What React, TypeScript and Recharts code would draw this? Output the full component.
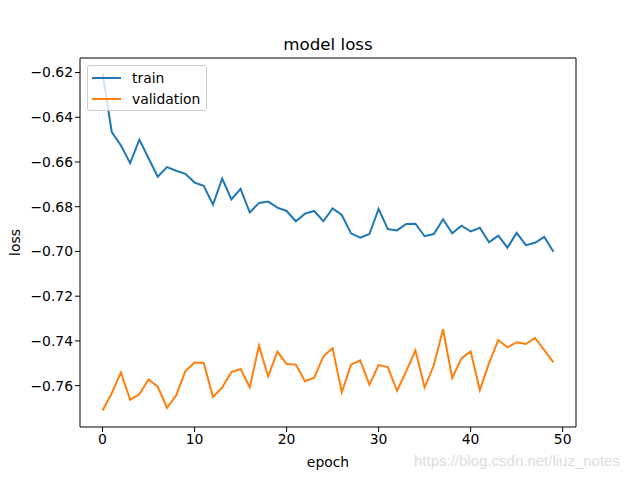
import { LineChart, Line, XAxis, YAxis, ReferenceLine } from "recharts";

const epochs = Array.from({ length: 50 }, (_, i) => i);

const trainLoss = [
  -0.6204, -0.6466, -0.6526, -0.6605, -0.65, -0.6583, -0.6666, -0.6623, -0.6639, -0.6653,
  -0.6692, -0.6707, -0.6791, -0.6674, -0.6767, -0.672, -0.6826, -0.6783, -0.6777, -0.6804,
  -0.6819, -0.6865, -0.6831, -0.6819, -0.6865, -0.6808, -0.6837, -0.6919, -0.6938, -0.6922,
  -0.681, -0.69, -0.6906, -0.6877, -0.6876, -0.6932, -0.6922, -0.6856, -0.6919, -0.6885,
  -0.691, -0.6894, -0.6959, -0.6929, -0.6983, -0.6917, -0.6972, -0.6961, -0.6935, -0.7001,
];

const valLoss = [
  -0.7711, -0.7634, -0.7541, -0.7663, -0.7639, -0.7572, -0.7605, -0.7699, -0.7644, -0.7535,
  -0.7497, -0.7499, -0.7651, -0.7608, -0.7539, -0.7526, -0.7607, -0.7421, -0.7559, -0.7448,
  -0.7503, -0.7506, -0.758, -0.7565, -0.7469, -0.7432, -0.763, -0.7506, -0.7487, -0.7596,
  -0.7508, -0.7517, -0.7623, -0.7536, -0.7442, -0.7608, -0.7509, -0.7348, -0.7566, -0.7478,
  -0.7447, -0.762, -0.7499, -0.7396, -0.7429, -0.7406, -0.7414, -0.7387, -0.7441, -0.7496,
];

const xTicks = [0, 10, 20, 30, 40, 50];
const yTicks = [-0.76, -0.74, -0.72, -0.7, -0.68, -0.66, -0.64, -0.62];
const xDomain: [number, number] = [-2.45, 51.45];
const yDomain: [number, number] = [-0.7785, -0.6135];

const data = epochs.map((e, i) => ({ epoch: e, train: trainLoss[i], validation: valLoss[i] }));

const font = "DejaVu Sans, sans-serif";
const tickStyle = { fontSize: 13.9, fill: "#000", fontFamily: font };

function LegendBox() {
  const rows = [
    { name: "train", color: "#1f77b4" },
    { name: "validation", color: "#ff7f0e" },
  ];
  return (
    <div
      style={{
        position: "absolute",
        left: 87,
        top: 65,
        width: 120,
        height: 46,
        border: "1px solid #cccccc",
        borderRadius: 3,
        background: "rgba(255,255,255,0.8)",
        fontFamily: font,
        fontSize: 13.9,
        color: "#000",
        boxSizing: "border-box",
        paddingTop: 1,
      }}
    >
      {rows.map((r) => (
        <div key={r.name} style={{ display: "flex", alignItems: "center", height: 21 }}>
          <div style={{ width: 29, height: 2, background: r.color, marginLeft: 4, marginRight: 11 }} />
          <span>{r.name}</span>
        </div>
      ))}
    </div>
  );
}

export default function App() {
  return (
    <div style={{ position: "absolute", left: 0, top: 0, width: 640, height: 480, background: "#fff" }}>
      <LineChart
        width={640}
        height={480}
        data={data}
        margin={{ top: 58, right: 64, bottom: 13, left: 20 }}
      >
        <XAxis
          dataKey="epoch"
          type="number"
          domain={xDomain}
          ticks={xTicks}
          allowDataOverflow
          height={40}
          tickSize={5}
          tick={tickStyle}
          tickLine={{ stroke: "#000" }}
          axisLine={{ stroke: "#000" }}
          label={{ value: "epoch", position: "insideBottom", offset: 0, style: { fontSize: 13.9, fill: "#000", fontFamily: font } }}
        />
        <YAxis
          type="number"
          domain={yDomain}
          ticks={yTicks}
          allowDataOverflow
          width={60}
          tickSize={5}
          tick={tickStyle}
          tickLine={{ stroke: "#000" }}
          axisLine={{ stroke: "#000" }}
          tickFormatter={(v: number) => v.toFixed(2).replace("-", "\u2212")}
          label={{ value: "loss", angle: -90, position: "insideLeft", offset: -5, style: { fontSize: 13.9, fill: "#000", fontFamily: font, textAnchor: "middle" } }}
        />
        <ReferenceLine y={yDomain[1]} stroke="#000" strokeWidth={1} ifOverflow="extendDomain" />
        <ReferenceLine x={xDomain[1]} stroke="#000" strokeWidth={1} ifOverflow="extendDomain" />
        <Line type="linear" dataKey="train" stroke="#1f77b4" strokeWidth={2} dot={false} isAnimationActive={false} />
        <Line type="linear" dataKey="validation" stroke="#ff7f0e" strokeWidth={2} dot={false} isAnimationActive={false} />
        <text x={328} y={50} textAnchor="middle" style={{ fontSize: 16.7, fontFamily: font, fill: "#000" }}>
          model loss
        </text>
      </LineChart>
      <LegendBox />
      <div
        style={{
          position: "absolute",
          left: 414,
          top: 452,
          fontFamily: "Liberation Sans, Arial, sans-serif",
          fontSize: 15,
          color: "#dcdcdc",
          whiteSpace: "nowrap",
        }}
      >
        https://blog.csdn.net/liuz_notes
      </div>
    </div>
  );
}
